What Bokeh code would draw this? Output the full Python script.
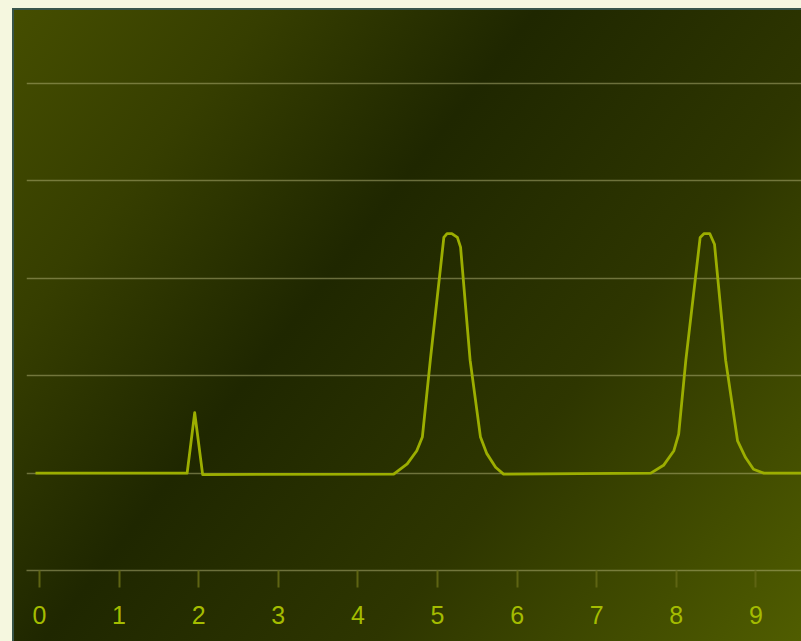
from bokeh.plotting import figure
from bokeh.models import Range1d, FixedTicker, GlobalInlineStyleSheet
from bokeh.embed import file_html
from bokeh.resources import INLINE

# ---- data ----
x_vals = [-0.05, 1.855, 1.95, 2.05, 4.45, 4.62, 4.74, 4.81, 4.91, 5.08, 5.12, 5.18, 5.25, 5.29,
          5.41, 5.54, 5.62, 5.73, 5.83, 7.68, 7.84, 7.97, 8.03, 8.12, 8.30, 8.35, 8.42, 8.48,
          8.62, 8.77, 8.87, 8.97, 9.10, 9.70]
y_vals = [1.0, 1.0, 1.62, 0.985, 0.99, 1.095, 1.23, 1.37, 2.16, 3.42, 3.46, 3.46, 3.42, 3.32,
          2.16, 1.37, 1.20, 1.06, 0.99, 1.0, 1.08, 1.23, 1.40, 2.16, 3.42, 3.46, 3.46, 3.35,
          2.16, 1.33, 1.16, 1.04, 1.0, 1.0]
x_ticks = [0, 1, 2, 3, 4, 5, 6, 7, 8, 9]
y_grid = [0, 1, 2, 3, 4, 5]

p = figure(frame_width=775, frame_height=560,
           x_range=Range1d(-0.163, 9.573), y_range=Range1d(0, 5.75),
           output_backend="svg", toolbar_location=None,
           min_border_left=26, min_border_right=0, min_border_top=10, min_border_bottom=71)

p.background_fill_alpha = 0
p.border_fill_alpha = 0
p.outline_line_color = None

p.styles = {
    "background-color": "#f5f7df",
    "background-image": ("linear-gradient(#38554a, #38554a), linear-gradient(#38554a, #38554a), "
                         "linear-gradient(128deg, #454e00 0%, #363e00 20%, #1f2700 41%, "
                         "#2e3600 67%, #505d00 100%)"),
    "background-position": "12px 8px, 12px 8px, 12px 8px",
    "background-size": "789px 2px, 2px 633px, 789px 633px",
    "background-repeat": "no-repeat",
}
p.stylesheets = [GlobalInlineStyleSheet(css="body { background: #f5f7df; margin: 0; }")]

p.line(x_vals, y_vals, line_color="#9cae00", line_width=2.8, line_join="round")

p.yaxis.visible = False
p.ygrid.ticker = FixedTicker(ticks=y_grid)
p.ygrid.grid_line_color = "#b4b478"
p.ygrid.grid_line_alpha = 0.5
p.ygrid.grid_line_width = 1.5
p.xgrid.visible = False

ax = p.xaxis[0]
ax.ticker = FixedTicker(ticks=x_ticks)
ax.axis_line_color = "#b4b478"
ax.axis_line_alpha = 0.5
ax.axis_line_width = 1.5
ax.major_tick_line_color = "#5e6412"
ax.major_tick_line_width = 2
ax.major_tick_out = 17
ax.major_tick_in = 0
ax.minor_tick_line_color = None
ax.major_label_text_color = "#a4bc00"
ax.major_label_text_font = "Liberation Sans"
ax.major_label_text_font_size = "25px"
ax.major_label_standoff = 18

open("out.html", "w").write(file_html(p, INLINE))
